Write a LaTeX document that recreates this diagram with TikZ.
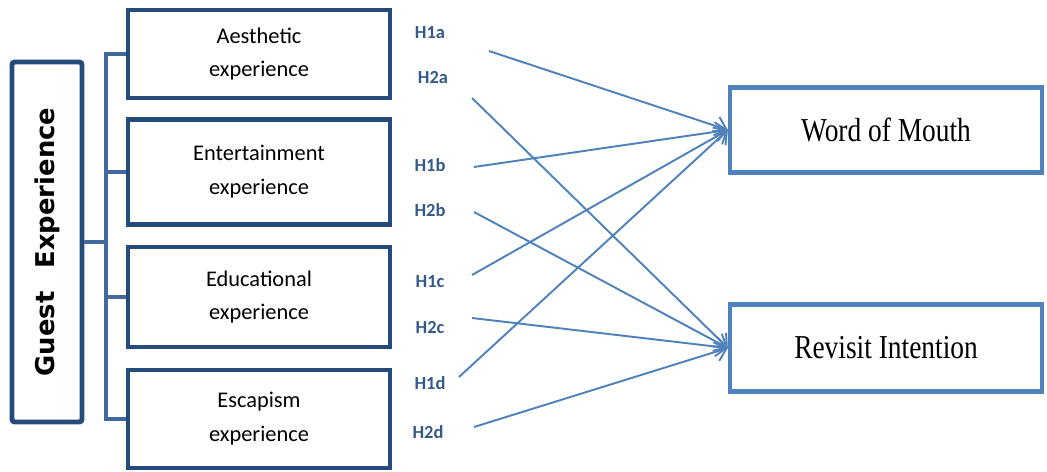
\documentclass[tikz,border=0pt]{standalone}
\usepackage{graphicx}
\usepackage{fontspec}
\setmainfont{Carlito}
\newfontfamily\outcomefont{Liberation Serif}
\newfontfamily\guestfont{DejaVu Sans}
\usetikzlibrary{arrows.meta}

\definecolor{navy}{HTML}{254A7C}
\definecolor{spineblue}{HTML}{41699C}
\definecolor{office}{HTML}{4F81BD}
\definecolor{hypblue}{HTML}{345A8A}

% tall serif text of the outcome boxes
\newcommand{\outtext}[1]{\scalebox{1}[1.22]{#1}}

\begin{document}
\begin{tikzpicture}[x=0.02cm, y=-0.02cm,
    dimbox/.style={draw=navy, line width=2.8pt, minimum width=5.24cm, align=center,
        font=\fontsize{12.75}{19.3}\selectfont},
    outbox/.style={draw=office, line width=2.5pt, minimum width=6.24cm,
        font=\outcomefont\fontsize{15.6}{18}\selectfont},
    hyp/.style={text=hypblue, font=\bfseries\fontsize{10.5}{12}\selectfont},
    link/.style={office, line width=1.1pt, -{Straight Barb[length=6pt,width=11pt]}}]
    \useasboundingbox (0,0) rectangle (1047,472);

    % Guest experience - rotated box
    \node[draw=navy, line width=2.8pt, rounded corners=1.5pt, rotate=90,
        minimum width=7.2cm, minimum height=1.4cm,
        font=\guestfont\bfseries\fontsize{14.7}{16}\selectfont] (guest) at (47,242)
        {Guest\hspace{0.9em}Experience};

    % Dimension boxes
    \node[dimbox, minimum height=1.76cm] (aes) at (259,54) {Aesthetic\\experience};
    \node[dimbox, minimum height=2.1cm] (ent) at (259,172) {Entertainment\\experience};
    \node[dimbox, minimum height=2.0cm] (edu) at (259,297) {Educational\\experience};
    \node[dimbox, minimum height=1.96cm] (esc) at (259,419) {Escapism\\experience};

    % Bracket
    \coordinate (spine) at (106,0);
    \draw[spineblue, line width=2.2pt] (aes.west) -- (aes.west -| spine)
        -- (esc.west -| spine) -- (esc.west);
    \draw[spineblue, line width=2.2pt] (ent.west) -- (ent.west -| spine);
    \draw[spineblue, line width=2.2pt] (edu.west) -- (edu.west -| spine);
    \draw[spineblue, line width=2.2pt] (guest.south) -- (guest.south -| spine);

    % Outcome boxes
    \node[outbox, minimum height=1.7cm] (wom) at (886,130) {\outtext{Word of Mouth}};
    \node[outbox, minimum height=1.74cm] (rev) at (886,348) {\outtext{Revisit Intention}};

    % Hypothesis labels
    \node[hyp] (h1a) at (430,33) {H1a};
    \node[hyp] (h2a) at (433,78) {H2a};
    \node[hyp] (h1b) at (430,165) {H1b};
    \node[hyp] (h2b) at (430,210) {H2b};
    \node[hyp] (h1c) at (430,282) {H1c};
    \node[hyp] (h2c) at (430,328) {H2c};
    \node[hyp] (h1d) at (430,383) {H1d};
    \node[hyp] (h2d) at (428,432) {H2d};

    % Arrow starts
    \coordinate (s1a) at (489,51);
    \coordinate (s2a) at (472,98);
    \coordinate (s1b) at (474,167);
    \coordinate (s2b) at (474,212);
    \coordinate (s1c) at (472,275);
    \coordinate (s2c) at (472,318);
    \coordinate (s1d) at (459,377);
    \coordinate (s2d) at (474,427);

    % Paths
    \foreach \s in {s1a,s1b,s1c,s1d}
        \draw[link] (\s) -- (wom.west);
    \foreach \s in {s2a,s2b,s2c,s2d}
        \draw[link] (\s) -- (rev.west);
\end{tikzpicture}
\end{document}
